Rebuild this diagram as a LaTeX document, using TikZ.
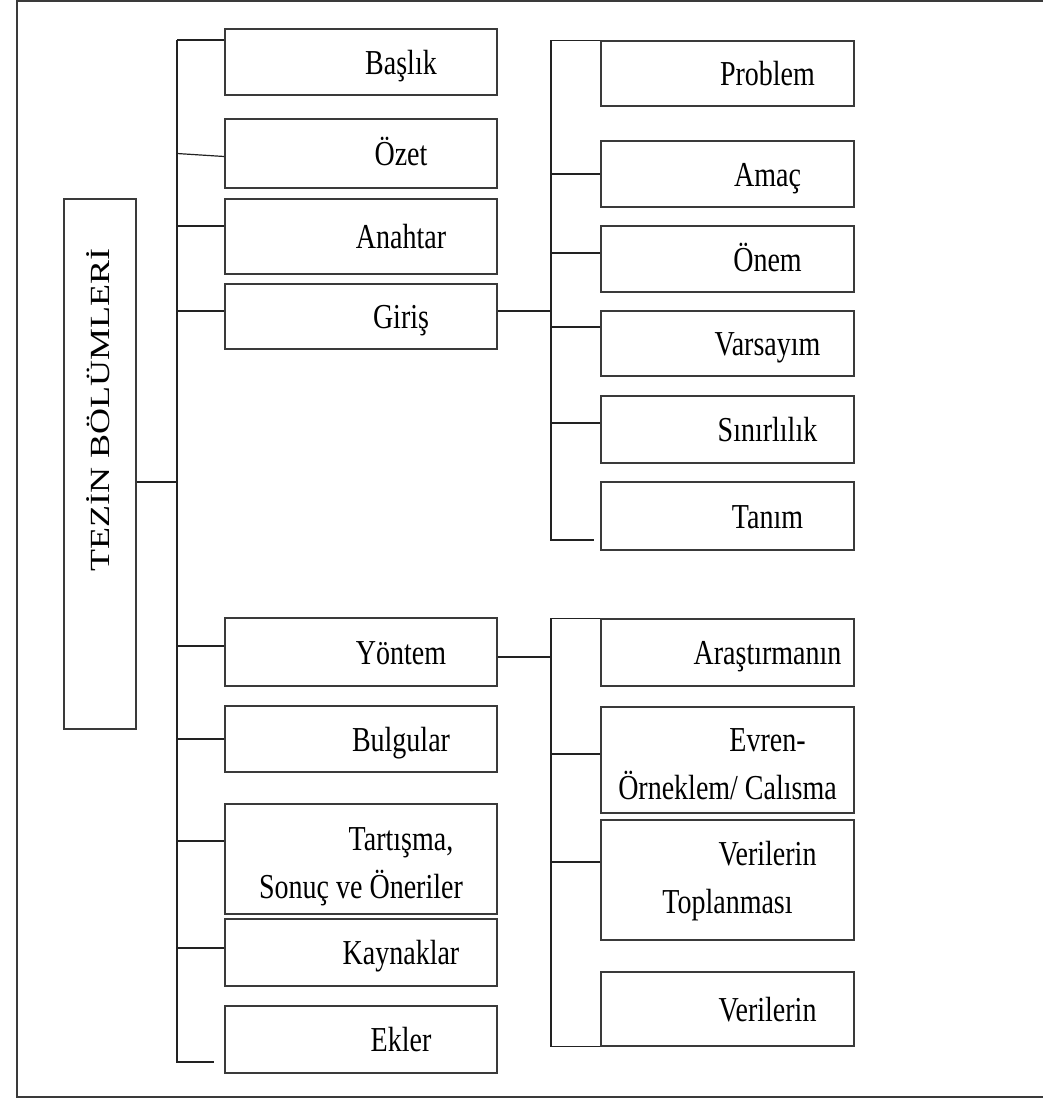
\documentclass[tikz,border=0pt]{standalone}
\usepackage{fontspec}
\setmainfont[FakeStretch=0.8]{Liberation Serif}
\newfontfamily\spineFont{Liberation Serif}
\definecolor{boxColor}{RGB}{58,58,58}
\definecolor{lineColor}{RGB}{34,34,34}
\tikzstyle{chart} = [x = 0.5pt, y = -0.5pt]
\tikzstyle{partBox} = [draw=boxColor, line width=0.8pt, inner sep=0pt, align=center, font=\fontsize{17.5}{24}\selectfont]
\tikzstyle{oneLine} = [text height=12pt, text depth=0pt]
\tikzstyle{twoLines} = [text depth=0pt]
\tikzstyle{treeLine} = [color=lineColor, line width=0.6pt]
\tikzstyle{frameLine} = [color=boxColor, line width=0.9pt]
\newcommand{\ind}{\hspace*{40pt}}
\newcommand{\partNode}[6][oneLine]{\node [partBox, #1, minimum width=#4*0.5pt, minimum height=#5*0.5pt] (#2) at (#3) {#6};}
\newcommand{\stub}[3]{\draw [treeLine] ([yshift=#2]#1.west) -- ([yshift=#2]#1.west -| #3);}

\begin{document}
\begin{tikzpicture}[chart]
  \useasboundingbox (0,0) rectangle (1043,1098);
  \draw [frameLine] (1043,1) -- (17,1) -- (17,1097) -- (1043,1097);

  % root
  \partNode[]{tezin}{100,464}{72}{530}{{\spineFont\fontsize{18}{22}\selectfont\rotatebox{90}{\scalebox{1}[0.77]{\hspace*{54pt}\smash{TEZİN BÖLÜMLERİ}\vphantom{E}}}}}

  % main sections
  \partNode{baslik}{361,62}{272}{66}{\ind Başlık}
  \partNode{ozet}{361,153.5}{272}{69}{\ind Özet}
  \partNode{anahtar}{361,236.5}{272}{75}{\ind Anahtar}
  \partNode{giris}{361,316.5}{272}{65}{\ind Giriş}
  \partNode{yontem}{361,652}{272}{68}{\ind Yöntem}
  \partNode{bulgular}{361,739}{272}{66}{\ind Bulgular}
  \partNode[twoLines, text height=39pt]{tartisma}{361,859}{272}{110}{\ind Tartışma,\\ Sonuç ve Öneriler}
  \partNode{kaynaklar}{361,952.5}{272}{67}{\ind Kaynaklar}
  \partNode{ekler}{361,1039.5}{272}{67}{\ind Ekler}

  % parts of Giriş
  \partNode{problem}{727.5,73.5}{253}{65}{\ind Problem}
  \partNode{amac}{727.5,174}{253}{66}{\ind Amaç}
  \partNode{onem}{727.5,259}{253}{66}{\ind Önem}
  \partNode{varsayim}{727.5,343.5}{253}{65}{\ind Varsayım}
  \partNode{sinirlilik}{727.5,429.5}{253}{67}{\ind Sınırlılık}
  \partNode{tanim}{727.5,516}{253}{68}{\ind Tanım}

  % parts of Yöntem
  \partNode{arastirma}{727.5,652.5}{253}{67}{\ind Araştırmanın}
  \partNode[twoLines, text height=39pt]{evren}{727.5,760}{253}{106}{\ind Evren-\\ Örneklem/ Calısma}
  \partNode[twoLines, text height=33pt]{verilerinA}{727.5,880}{253}{120}{\ind Verilerin\\ Toplanması}
  \partNode{verilerinB}{727.5,1009}{253}{74}{\ind Verilerin}

  % left tree
  \coordinate (leftTop) at (177,40);
  \coordinate (leftBottom) at (177,1062);
  \coordinate (eklerEnd) at (214,1062);
  \draw [treeLine] (leftTop) -- (leftBottom) -- (eklerEnd);
  \draw [treeLine] ([yshift=-9pt]tezin.east) -- ([yshift=-9pt]tezin.east -| leftTop);
  \stub{baslik}{11pt}{leftTop}
  \draw [treeLine] ([yshift=-1.5pt]ozet.west) -- (ozet.west -| leftTop);
  \stub{anahtar}{5.25pt}{leftTop}
  \stub{giris}{2.75pt}{leftTop}
  \stub{yontem}{3pt}{leftTop}
  \stub{bulgular}{0pt}{leftTop}
  \stub{tartisma}{9pt}{leftTop}
  \stub{kaynaklar}{2.25pt}{leftTop}

  % right trees
  \coordinate (rightSpine) at (551,0);
  \coordinate (tanimEnd) at (594,540);
  \draw [treeLine] (problem.north west) -- (problem.north west -| rightSpine) -- (tanimEnd -| rightSpine) -- (tanimEnd);
  \draw [treeLine] ([yshift=2.75pt]giris.east) -- ([yshift=2.75pt]giris.east -| rightSpine);
  \stub{amac}{0pt}{rightSpine}
  \stub{onem}{3pt}{rightSpine}
  \stub{varsayim}{8.25pt}{rightSpine}
  \stub{sinirlilik}{3.25pt}{rightSpine}

  \draw [treeLine] (arastirma.north west) -- (arastirma.north west -| rightSpine) -- (verilerinB.south west -| rightSpine) -- (verilerinB.south west);
  \draw [treeLine] ([yshift=-2.5pt]yontem.east) -- ([yshift=-2.5pt]yontem.east -| rightSpine);
  \stub{evren}{3pt}{rightSpine}
  \stub{verilerinA}{9pt}{rightSpine}
\end{tikzpicture}
\end{document}
